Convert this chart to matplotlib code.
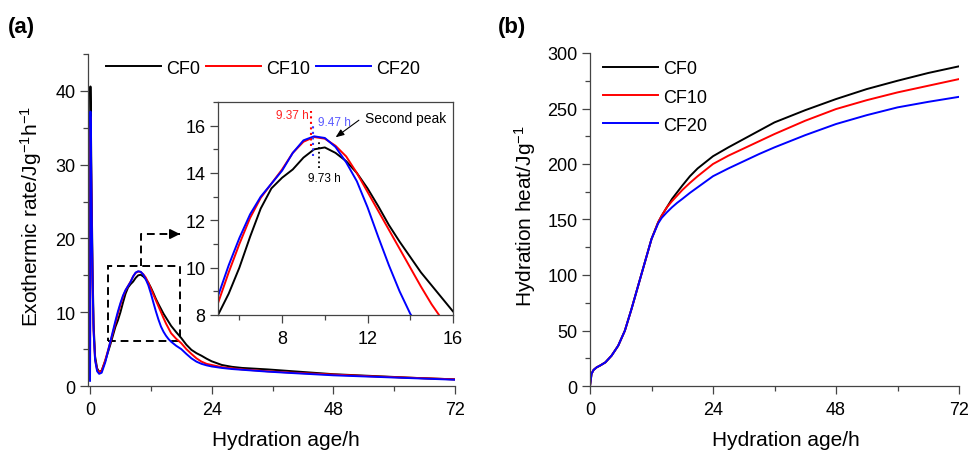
import matplotlib
matplotlib.use("Agg")
import matplotlib.pyplot as plt
from matplotlib.patches import Rectangle
from matplotlib.ticker import MultipleLocator

plt.rcParams["font.family"] = ["Liberation Sans", "DejaVu Sans"]
plt.rcParams["mathtext.default"] = "regular"

labels = ["CF0", "CF10", "CF20"]
colors = ["black", "#ff0000", "#0000ff"]

# (a) exothermic rate, J/g/h
age_a = [0, 0.08, 0.15, 0.3, 0.5, 0.7, 1.0, 1.4, 1.8, 2.3, 3.0, 4.0, 5.0, 5.5, 6.0, 6.5,
         7.0, 7.5, 8.0, 8.5, 9.0, 9.5, 10.0, 10.5, 11.0, 11.5, 12.0, 12.5, 13.0, 13.5,
         14.0, 14.5, 15.0, 15.5, 16.0, 17.0, 18.0, 19.0, 20.0, 21.0, 22.0, 23.0, 24.0,
         26.0, 28.0, 30.0, 35.0, 40.0, 48.0, 56.0, 64.0, 72.0]
rate_cf0 = [1.0, 40.6, 37.0, 27.0, 16.0, 8.5, 4.0, 2.4, 1.9, 2.1, 3.4, 5.6, 8.0, 8.9, 10.0, 11.3,
            12.5, 13.35, 13.8, 14.15, 14.65, 15.0, 15.08, 14.85, 14.5, 14.0, 13.35, 12.6, 11.8, 11.1,
            10.45, 9.8, 9.25, 8.7, 8.15, 7.3, 6.5, 5.6, 4.9, 4.45, 4.1, 3.7, 3.35,
            2.85, 2.6, 2.45, 2.25, 2.0, 1.6, 1.35, 1.1, 0.9]
rate_cf10 = [1.0, 36.5, 33.0, 24.0, 14.0, 7.5, 3.6, 2.2, 1.85, 2.05, 3.5, 5.9, 8.5, 9.8, 11.0, 12.1,
             12.95, 13.55, 14.15, 14.85, 15.32, 15.52, 15.45, 15.15, 14.7, 14.0, 13.2, 12.4, 11.6, 10.8,
             10.0, 9.2, 8.45, 7.8, 7.15, 6.4, 5.8, 5.0, 4.35, 3.75, 3.3, 3.0, 2.85,
             2.55, 2.4, 2.25, 2.0, 1.8, 1.55, 1.3, 1.1, 0.9]
rate_cf20 = [0.7, 37.2, 34.0, 25.0, 14.5, 7.5, 3.5, 2.0, 1.65, 1.8, 3.2, 6.0, 8.8, 10.1, 11.25, 12.25,
             13.0, 13.55, 14.1, 14.85, 15.38, 15.55, 15.48, 15.1, 14.45, 13.65, 12.55, 11.3, 10.1, 9.0,
             8.05, 7.35, 6.8, 6.35, 6.0, 5.45, 5.0, 4.35, 3.75, 3.3, 3.0, 2.8, 2.65,
             2.45, 2.3, 2.2, 1.95, 1.75, 1.45, 1.25, 1.05, 0.85]

# second peak times, h
peak_times = [9.37, 9.47, 9.73]

# (b) cumulative hydration heat, J/g
age_b = [0, 0.3, 0.7, 1.3, 2.0, 3.0, 4.2, 5.5, 6.8, 8.1, 9.4, 10.7, 12.0, 13.3, 14.0, 15.0,
         16.0, 17.0, 18.0, 19.5, 21.0, 24.0, 27.0, 30.0, 33.0, 36.0, 42.0, 48.0, 54.0, 60.0,
         66.0, 72.0]
heat_cf0 = [0, 11, 14.5, 16.8, 18.5, 21.3, 27.3, 36.3, 49.8, 69.4, 90.4, 111.4, 132.4, 147.5, 153.5, 161,
            168.5, 174.5, 180.5, 189, 196, 207, 215, 222.5, 230, 237.5, 248.5, 258.5, 267.5, 275,
            282, 288]
heat_cf10 = [0, 11, 14.5, 16.8, 18.5, 21.3, 27.3, 36.3, 49.8, 69.4, 90.4, 111.4, 132.4, 147.5, 153.5, 161,
             166.5, 171.5, 176.5, 183, 189, 200, 207.5, 214, 220.5, 227, 239, 249.5, 257.5, 264.5,
             270.5, 276.5]
heat_cf20 = [0, 11, 14.5, 16.8, 18.5, 21.3, 27.3, 36.3, 49.8, 69.4, 90.4, 111.4, 132.4, 146.5, 151.5, 156.5,
             161, 165, 168.5, 174, 179, 189, 196, 202.5, 209, 215, 226, 236, 244, 251,
             256, 260.5]

rates = [rate_cf0, rate_cf10, rate_cf20]
heats = [heat_cf0, heat_cf10, heat_cf20]

W, H = 968, 452
fig = plt.figure(figsize=(W / 100, H / 100), dpi=100)


def px_axes(l, t, r, b):
    return fig.add_axes([l / W, 1 - b / H, (r - l) / W, (b - t) / H])


def style(ax, box=False):
    for s in ["left", "bottom", "top", "right"]:
        ax.spines[s].set_color("#444444")
        ax.spines[s].set_linewidth(0.9)
    if not box:
        ax.spines["top"].set_visible(False)
        ax.spines["right"].set_visible(False)
    ax.tick_params(which="both", direction="out", colors="#444444", labelcolor="black",
                   labelsize=13, top=False, right=False)
    ax.tick_params(which="major", length=6, width=0.9)
    ax.tick_params(which="minor", length=3.5, width=0.9)
    ax.tick_params(axis="x", pad=5)
    ax.tick_params(axis="y", pad=3)


LW = 1.4

# ---- panel (a)
ax = px_axes(88, 55, 455, 387)
for y, c, lab in zip(rates, colors, labels):
    ax.plot(age_a, y, color=c, lw=LW, label=lab)
ax.set_xlim(-0.4, 72)
ax.set_ylim(0, 45)
ax.xaxis.set_major_locator(MultipleLocator(24))
ax.xaxis.set_minor_locator(MultipleLocator(12))
ax.yaxis.set_major_locator(MultipleLocator(10))
ax.yaxis.set_minor_locator(MultipleLocator(5))
style(ax)

# zoom box + dashed connector
ax.add_patch(Rectangle((3.6, 6.1), 14.15, 10.1, fill=False, ls=(0, (4, 2.5)), lw=1.4, color="black"))
ax.plot([10, 10, 17.3], [16.2, 20.6, 20.6], ls=(0, (4, 2.5)), lw=1.4, color="black")
ax.annotate("", xy=(18.3, 20.6), xytext=(17.0, 20.6),
            arrowprops=dict(arrowstyle="-|>,head_length=0.6,head_width=0.3", color="black", lw=1.2))

ax.legend(loc="center left", bbox_to_anchor=(106 / W, 1 - 69 / H), bbox_transform=fig.transFigure,
          ncol=3, frameon=False, fontsize=13, handlelength=3.05, handletextpad=0.3,
          columnspacing=0.3, borderpad=0, borderaxespad=0)

# inset
ins = px_axes(218, 103, 453, 316)
for y, c in zip(rates, colors):
    ins.plot(age_a, y, color=c, lw=LW)
ins.set_xlim(5, 16)
ins.set_ylim(8, 17)
ins.xaxis.set_major_locator(MultipleLocator(4))
ins.xaxis.set_minor_locator(MultipleLocator(2))
ins.yaxis.set_major_locator(MultipleLocator(2))
ins.yaxis.set_minor_locator(MultipleLocator(1))
style(ins, box=True)

ins.plot([peak_times[0]] * 2, [15.15, 16.6], ls=":", lw=1.5, color="#ff0000")
ins.plot([peak_times[1]] * 2, [14.7, 16.1], ls=":", lw=1.5, color="#3333ff")
ins.plot([peak_times[2]] * 2, [14.2, 15.3], ls=":", lw=1.3, color="black")
ins.text(9.27, 16.45, f"{peak_times[0]:.2f} h", color="#ff2020", fontsize=8.5, ha="right", va="center")
ins.text(9.66, 16.16, f"{peak_times[1]:.2f} h", color="#5a5aff", fontsize=8.5, ha="left", va="center")
ins.text(10.0, 13.77, f"{peak_times[2]:.2f} h", color="black", fontsize=8.5, ha="center", va="center")
ins.text(11.9, 16.33, "Second peak", fontsize=10, ha="left", va="center")
ins.annotate("", xy=(10.4, 15.44), xytext=(11.7, 16.3),
             arrowprops=dict(arrowstyle="-|>,head_length=0.5,head_width=0.2", color="black", lw=0.8))

# ---- panel (b)
bx = px_axes(590, 54, 959, 387)
for y, c, lab in zip(heats, colors, labels):
    bx.plot(age_b, y, color=c, lw=LW, label=lab)
bx.set_xlim(0, 72)
bx.set_ylim(0, 300)
bx.xaxis.set_major_locator(MultipleLocator(24))
bx.xaxis.set_minor_locator(MultipleLocator(12))
bx.yaxis.set_major_locator(MultipleLocator(50))
bx.yaxis.set_minor_locator(MultipleLocator(25))
style(bx)
bx.legend(loc="center left", bbox_to_anchor=(603 / W, 1 - 98 / H), bbox_transform=fig.transFigure,
          frameon=False, fontsize=13, handlelength=3.05, handletextpad=0.3,
          labelspacing=0.62, borderpad=0, borderaxespad=0)

# labels
fig.text(8 / W, 1 - 27 / H, "(a)", fontsize=16, fontweight="bold", ha="left", va="center")
fig.text(498 / W, 1 - 27 / H, "(b)", fontsize=16, fontweight="bold", ha="left", va="center")
fig.text(31 / W, 1 - 216 / H, "Exothermic rate/Jg$^{-1}$h$^{-1}$", rotation=90, fontsize=15,
         ha="center", va="center")
fig.text(525 / W, 1 - 216 / H, "Hydration heat/Jg$^{-1}$", rotation=90, fontsize=15,
         ha="center", va="center")
fig.text(286 / W, 1 - 446 / H, "Hydration age/h", fontsize=15, ha="center", va="baseline")
fig.text(786 / W, 1 - 446 / H, "Hydration age/h", fontsize=15, ha="center", va="baseline")

fig.savefig("out.png", dpi=100, facecolor="white")
